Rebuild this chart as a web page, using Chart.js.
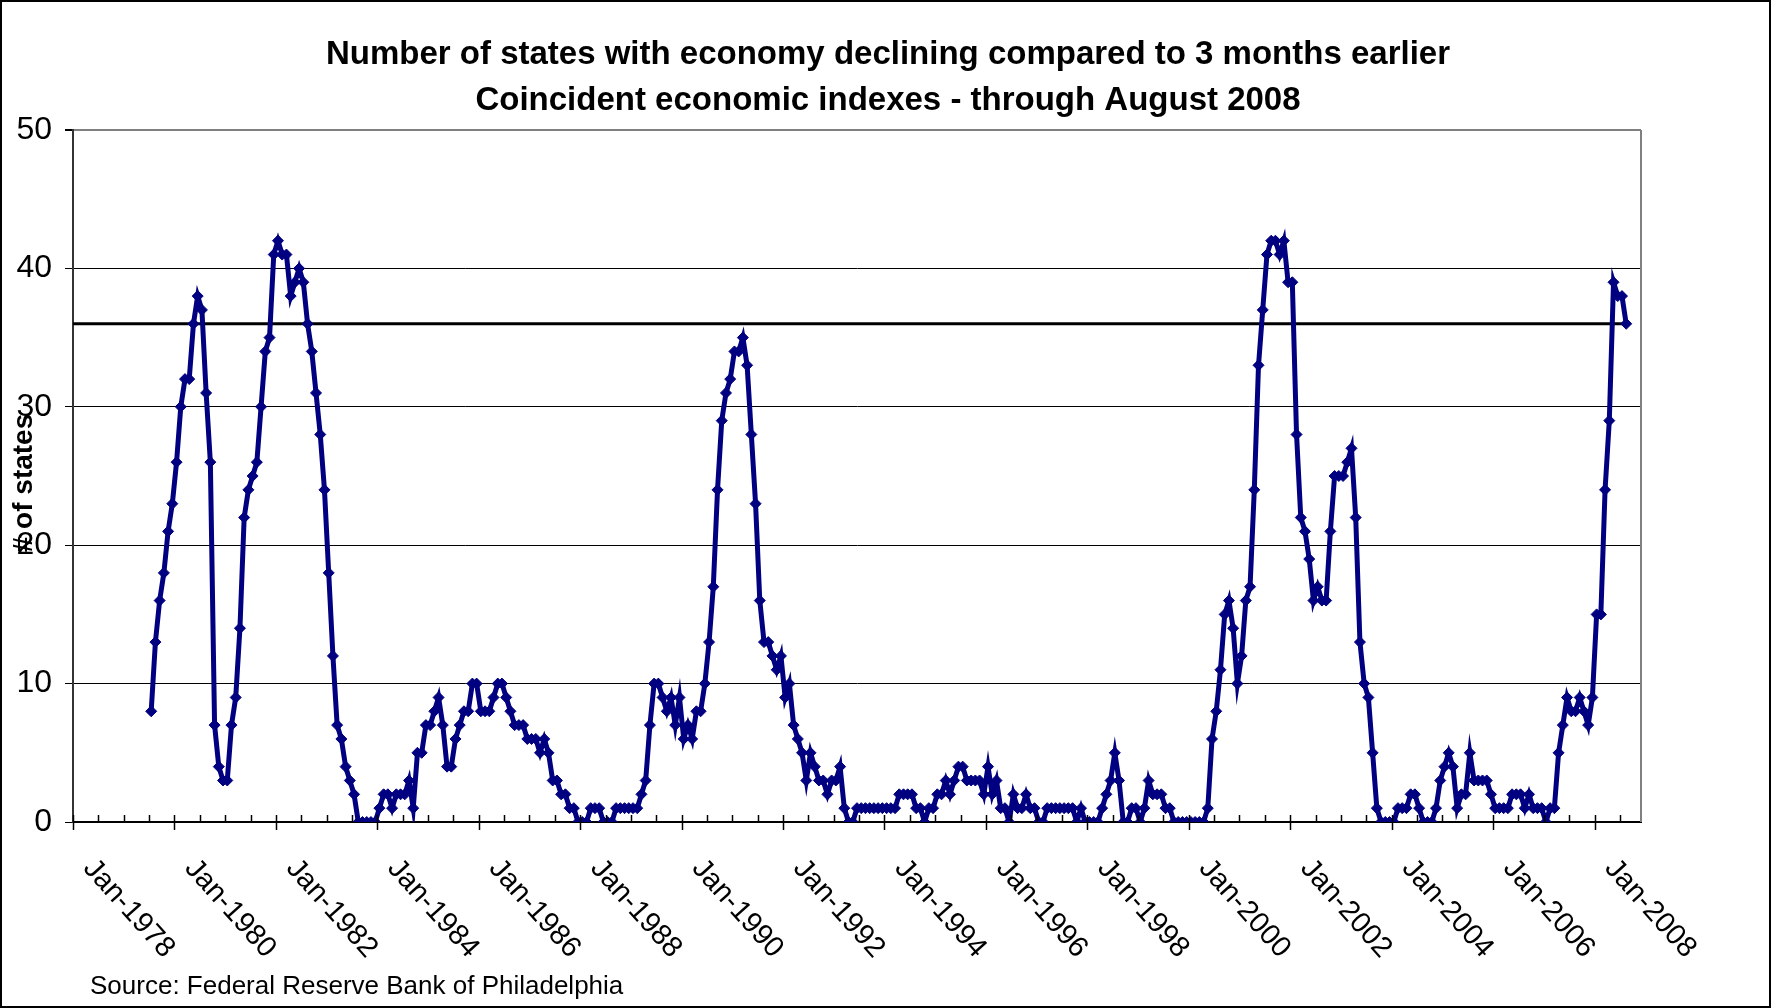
<!DOCTYPE html>
<html>
<head>
<meta charset="utf-8">
<title>States with economy declining</title>
<script src="https://cdn.jsdelivr.net/npm/chart.js@4/dist/chart.umd.min.js"></script>
<style>
  html, body { margin: 0; padding: 0; background: #fff; }
  canvas { display: block; }
</style>
</head>
<body>
<canvas id="statesChart" width="1771" height="1008"></canvas>
<script>
const titleLines = [
  "Number of states with economy declining compared to 3 months earlier",
  "Coincident economic indexes - through August 2008"
];
const yAxisTitle = "# of states";
const sourceNote = "Source: Federal Reserve Bank of Philadelphia";

// monthly count, first value is July 1979, last is August 2008
const seriesStart = { year: 1979, month: 7 };
const statesDeclining = [
  8, 13, 16, 18, 21, 23,
  26, 30, 32, 32, 36, 38, 37, 31, 26, 7, 4, 3,
  3, 7, 9, 14, 22, 24, 25, 26, 30, 34, 35, 41,
  42, 41, 41, 38, 39, 40, 39, 36, 34, 31, 28, 24,
  18, 12, 7, 6, 4, 3, 2, 0, 0, 0, 0, 0,
  1, 2, 2, 1, 2, 2, 2, 3, 1, 5, 5, 7,
  7, 8, 9, 7, 4, 4, 6, 7, 8, 8, 10, 10,
  8, 8, 8, 9, 10, 10, 9, 8, 7, 7, 7, 6,
  6, 6, 5, 6, 5, 3, 3, 2, 2, 1, 1, 0,
  0, 0, 1, 1, 1, 0, 0, 0, 1, 1, 1, 1,
  1, 1, 2, 3, 7, 10, 10, 9, 8, 9, 7, 9,
  6, 7, 6, 8, 8, 10, 13, 17, 24, 29, 31, 32,
  34, 34, 35, 33, 28, 23, 16, 13, 13, 12, 11, 12,
  9, 10, 7, 6, 5, 3, 5, 4, 3, 3, 2, 3,
  3, 4, 1, 0, 0, 1, 1, 1, 1, 1, 1, 1,
  1, 1, 1, 2, 2, 2, 2, 1, 1, 0, 1, 1,
  2, 2, 3, 2, 3, 4, 4, 3, 3, 3, 3, 2,
  4, 2, 3, 1, 1, 0, 2, 1, 1, 2, 1, 1,
  0, 0, 1, 1, 1, 1, 1, 1, 1, 0, 1, 0,
  0, 0, 0, 1, 2, 3, 5, 3, 0, 0, 1, 1,
  0, 1, 3, 2, 2, 2, 1, 1, 0, 0, 0, 0,
  0, 0, 0, 0, 1, 6, 8, 11, 15, 16, 14, 10,
  12, 16, 17, 24, 33, 37, 41, 42, 42, 41, 42, 39,
  39, 28, 22, 21, 19, 16, 17, 16, 16, 21, 25, 25,
  25, 26, 27, 22, 13, 10, 9, 5, 1, 0, 0, 0,
  0, 1, 1, 1, 2, 2, 1, 0, 0, 0, 1, 3,
  4, 5, 4, 1, 2, 2, 5, 3, 3, 3, 3, 2,
  1, 1, 1, 1, 2, 2, 2, 1, 2, 1, 1, 1,
  0, 1, 1, 5, 7, 9, 8, 8, 9, 8, 7, 9,
  15, 15, 24, 29, 39, 38, 38, 36
];
const thresholdLevel = 36;

const axisStartYear = 1978;
const axisMonths = 371;          // Jan 1978 .. Nov 2008
const labelYears = [1978, 1980, 1982, 1984, 1986, 1988, 1990, 1992,
                    1994, 1996, 1998, 2000, 2002, 2004, 2006, 2008];
const yTicks = [0, 10, 20, 30, 40, 50];

const FONT = "'Liberation Sans', Arial, sans-serif";

function monthIndex(year, month) {
  return (year - axisStartYear) * 12 + (month - 1);
}

const startIdx = monthIndex(seriesStart.year, seriesStart.month);
const statePoints = statesDeclining.map((v, i) => ({ x: startIdx + i + 0.5, y: v }));
const lastX = startIdx + statesDeclining.length - 0.5;
const thresholdPoints = [{ x: 0, y: thresholdLevel }, { x: lastX, y: thresholdLevel }];

// frame, excel style axis ticks, rotated month labels and the texts
const excelDecor = {
  id: 'excelDecor',
  beforeDraw(chart) {
    const ctx = chart.ctx;
    ctx.save();
    ctx.fillStyle = '#fff';
    ctx.fillRect(0, 0, chart.width, chart.height);
    ctx.strokeStyle = '#000';
    ctx.lineWidth = 2;
    ctx.strokeRect(1, 1, chart.width - 2, chart.height - 2);
    ctx.restore();
  },
  afterDraw(chart) {
    const ctx = chart.ctx;
    const area = chart.chartArea;
    const xs = chart.scales.x;
    ctx.save();

    // grey plot border on the right
    ctx.strokeStyle = '#808080';
    ctx.lineWidth = 2;
    ctx.beginPath();
    ctx.moveTo(area.right, area.top);
    ctx.lineTo(area.right, area.bottom);
    ctx.stroke();

    // minor ticks every 6 months inside, major every 2 years crossing
    ctx.strokeStyle = '#000';
    ctx.lineWidth = 1.5;
    for (let m = 0; m <= axisMonths; m += 6) {
      const px = Math.round(xs.getPixelForValue(m)) + 0.5;
      const major = m % 24 === 0;
      ctx.beginPath();
      ctx.moveTo(px, area.bottom - 7);
      ctx.lineTo(px, area.bottom + (major ? 8 : 0));
      ctx.stroke();
    }

    // month labels, rotated downwards
    ctx.fillStyle = '#000';
    ctx.font = '29px ' + FONT;
    ctx.textAlign = 'left';
    ctx.textBaseline = 'top';
    labelYears.forEach(year => {
      const px = xs.getPixelForValue(monthIndex(year, 1));
      ctx.save();
      ctx.translate(px + 26, area.bottom + 32);
      ctx.rotate(48 * Math.PI / 180);
      ctx.fillText('Jan-' + year, 0, 0);
      ctx.restore();
    });

    // chart title
    ctx.font = 'bold 33px ' + FONT;
    ctx.textAlign = 'center';
    ctx.textBaseline = 'alphabetic';
    ctx.fillText(titleLines[0], 888, 64);
    ctx.fillText(titleLines[1], 888, 110);

    // axis title
    ctx.save();
    ctx.translate(24, 483);
    ctx.rotate(-Math.PI / 2);
    ctx.font = 'bold 28px ' + FONT;
    ctx.textBaseline = 'middle';
    ctx.fillText(yAxisTitle, 0, 0);
    ctx.restore();

    // source line
    ctx.font = '26px ' + FONT;
    ctx.textAlign = 'left';
    ctx.fillText(sourceNote, 90, 994);

    ctx.restore();
  }
};

const canva = document.querySelector('#statesChart');

const statesChart = new Chart(canva, {
  type: 'line',
  data: {
    datasets: [
      {
        label: 'States declining',
        data: statePoints,
        borderColor: '#000080',
        backgroundColor: '#000080',
        borderWidth: 5,
        pointStyle: 'rectRot',
        pointRadius: 5.5,
        pointBorderWidth: 1,
        pointBackgroundColor: '#000080',
        pointBorderColor: '#000080',
        tension: 0,
        order: 0
      },
      {
        label: 'Threshold',
        data: thresholdPoints,
        borderColor: '#000',
        borderWidth: 3.2,
        pointRadius: 0,
        tension: 0,
        order: 1
      }
    ]
  },
  options: {
    responsive: false,
    animation: false,
    devicePixelRatio: 1,
    layout: { padding: { left: 0, top: 130, right: 130, bottom: 186 } },
    plugins: {
      legend: { display: false },
      title: { display: false },
      tooltip: { enabled: false }
    },
    scales: {
      x: {
        type: 'linear',
        min: 0,
        max: axisMonths,
        grid: { display: false },
        ticks: { display: false },
        border: { display: true, color: '#000', width: 2 },
        afterFit: s => { s.height = 0; }
      },
      y: {
        min: 0,
        max: 50,
        afterBuildTicks: s => { s.ticks = yTicks.map(v => ({ value: v })); },
        ticks: {
          color: '#000',
          font: { family: FONT, size: 32 },
          padding: 13
        },
        grid: {
          color: c => (c.tick && c.tick.value === 50 ? '#808080' : '#000'),
          lineWidth: c => (c.tick && c.tick.value === 50 ? 2 : 1),
          tickColor: '#000',
          tickLength: 8
        },
        border: { display: true, color: '#333', width: 2 },
        afterFit: s => { s.width = 73; }
      }
    }
  },
  plugins: [excelDecor]
});
</script>
</body>
</html>
